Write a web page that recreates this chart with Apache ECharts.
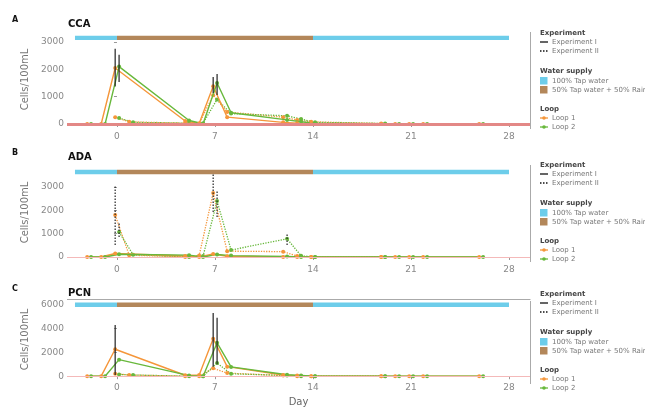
<!DOCTYPE html>
<html>
<head>
<meta charset="utf-8">
<script src="https://cdn.jsdelivr.net/npm/echarts@6/dist/echarts.min.js"></script>
<style>
  html, body { margin: 0; padding: 0; background: #fff; }
  #main { width: 645px; height: 408px; }
</style>
</head>
<body>
<div id="main"></div>
<script>
// panels and sampling days
var panelNames = ['CCA', 'ADA', 'PCN'];
var panelTags = ['A', 'B', 'C'];
var daysExp1 = [-2, -1, 0, 5, 6, 7, 8, 12, 13, 14, 19, 20, 21, 22, 26];
var daysExp2 = [0, 1, 5, 6, 7, 8, 12, 13, 14, 19];

// CCA
var ccaExp1Loop1 = [0, 0, 2050, 110, 20, 1380, 250, 60, 30, 10, 0, 0, 0, 0, 0];
var ccaExp1Loop2 = [0, 0, 2100, 130, 10, 1500, 410, 150, 80, 30, 0, 0, 0, 0, 0];
var ccaExp2Loop1 = [250, 80, 30, 20, 1050, 440, 250, 150, 80, 20];
var ccaExp2Loop2 = [220, 60, 30, 30, 900, 380, 300, 180, 60, 20];
// ADA
var adaExp1Loop1 = [0, 0, 150, 40, 0, 130, 30, 0, 0, 0, 0, 0, 0, 0, 0];
var adaExp1Loop2 = [0, 0, 120, 80, 0, 110, 60, 20, 0, 0, 0, 0, 0, 0, 0];
var adaExp2Loop1 = [1800, 80, 0, 60, 2750, 250, 230, 40, 0, 0];
var adaExp2Loop2 = [1070, 100, 0, 40, 2400, 300, 780, 50, 0, 0];
// PCN
var pcnExp1Loop1 = [0, 0, 2260, 80, 100, 3150, 800, 100, 50, 0, 0, 0, 0, 0, 0];
var pcnExp1Loop2 = [0, 0, 1390, 50, 0, 2800, 780, 120, 60, 0, 0, 0, 0, 0, 0];
var pcnExp2Loop1 = [200, 100, 0, 0, 660, 260, 50, 0, 0, 0];
var pcnExp2Loop2 = [150, 100, 0, 0, 1100, 200, 60, 0, 0, 0];

// error bars: [day, loop, low, high, experiment]
var ccaErr = [[0, 1, 1370, 2750, 1], [0, 2, 1540, 2530, 1], [7, 1, 1130, 1720, 1], [7, 2, 1060, 1830, 1]];
var adaErr = [[0, 1, 510, 3090, 2], [0, 2, 860, 1460, 2], [7, 1, 1930, 3600, 2], [7, 2, 1720, 2880, 2], [12, 2, 515, 1030, 2]];
var pcnErr = [[0, 1, 100, 4300, 1], [7, 1, 800, 5300, 1], [7, 2, 1000, 4900, 1]];

// water supply phases
var supplyStart = [-3, 0, 14];
var supplyEnd = [0, 14, 28];
var supplyKind = [0, 1, 0];
var supplyNames = ['100% Tap water', '50% Tap water + 50% Rainwater'];
var supplyLevel = [3150, 3650, 6000];

var xTicks = [0, 7, 14, 21, 28];
var yTicks = [[0, 1000, 2000, 3000], [0, 1000, 2000, 3000], [0, 2000, 4000, 6000]];

var panelData = [
    [ccaExp1Loop1, ccaExp1Loop2, ccaExp2Loop1, ccaExp2Loop2, ccaErr],
    [adaExp1Loop1, adaExp1Loop2, adaExp2Loop1, adaExp2Loop2, adaErr],
    [pcnExp1Loop1, pcnExp1Loop2, pcnExp2Loop1, pcnExp2Loop2, pcnErr]
];

var orange = '#F5963A', green = '#68B83C';
var supplyColors = ['#6DCDEA', '#B3875A'];
var dodge = { 1: -0.13, 2: 0.15 };

// layout of the three panels
var gridBox = [
    { top: 30, height: 99, ymin: -183, ymax: 3440 },
    { top: 163, height: 99, ymin: -215, ymax: 4034 },
    { top: 299, height: 85, ymin: -320, ymax: 6480 }
];
var zeroLine = [{ color: '#E38886', width: 3 }, { color: '#F4B9B9', width: 1 }, { color: '#F4B9B9', width: 1 }];

var myChart = echarts.init(document.getElementById('main'));
var grids = [], xAxes = [], yAxes = [], series = [], graphics = [];
var font = 'DejaVu Sans';
var plain = function (v) { return String(v); };

gridBox.forEach(function (g, p) {
    grids.push({ left: 67, width: 463, top: g.top, height: g.height });
    xAxes.push({
        type: 'value', gridIndex: p, min: -3.57, max: 29.5,
        splitLine: { show: false },
        axisLine: { show: false },
        axisTick: { show: true, length: 3, lineStyle: { color: '#999' }, customValues: xTicks },
        axisLabel: { color: '#888', fontSize: 9, fontFamily: font, margin: 3, customValues: xTicks, formatter: plain },
        name: p === 2 ? 'Day' : '', nameLocation: 'middle', nameGap: 17,
        nameTextStyle: { color: '#666', fontSize: 10, fontFamily: font }
    });
    yAxes.push({
        type: 'value', gridIndex: p, min: g.ymin, max: g.ymax,
        splitLine: { show: false },
        axisLine: { show: false },
        axisTick: { show: true, length: 3, lineStyle: { color: '#999' }, customValues: yTicks[p] },
        axisLabel: { color: '#888', fontSize: 9, fontFamily: font, margin: 3, customValues: yTicks[p], formatter: plain },
        name: 'Cells/100mL', nameLocation: 'middle', nameGap: 29,
        nameTextStyle: { color: '#777', fontSize: 10, fontFamily: font }
    });

    // zero reference line
    series.push({
        type: 'line', xAxisIndex: p, yAxisIndex: p, data: [], z: 1,
        markLine: {
            silent: true, symbol: 'none', label: { show: false }, animation: false,
            lineStyle: { color: zeroLine[p].color, width: zeroLine[p].width, type: 'solid' },
            data: [{ yAxis: 0 }]
        }
    });

    // water supply bar
    series.push({
        type: 'custom', xAxisIndex: p, yAxisIndex: p, z: 2,
        data: supplyStart.map(function (s, i) { return [s, supplyEnd[i], supplyLevel[p], supplyKind[i]]; }),
        encode: { x: [0, 1], y: 2 },
        renderItem: function (params, api) {
            var a = api.coord([api.value(0), api.value(2)]);
            var b = api.coord([api.value(1), api.value(2)]);
            return { type: 'rect', shape: { x: a[0], y: a[1] - 2.2, width: b[0] - a[0], height: 4.4 },
                     style: { fill: supplyColors[api.value(3)] } };
        }
    });

    var d = panelData[p];
    var defs = [
        { vals: d[0], days: daysExp1, loop: 1, type: 'solid' },
        { vals: d[1], days: daysExp1, loop: 2, type: 'solid' },
        { vals: d[2], days: daysExp2, loop: 1, type: 'dotted' },
        { vals: d[3], days: daysExp2, loop: 2, type: 'dotted' }
    ];
    defs.forEach(function (s) {
        var c = s.loop === 1 ? orange : green;
        series.push({
            type: 'line', xAxisIndex: p, yAxisIndex: p, z: s.type === 'solid' ? 4 : 3,
            data: s.days.map(function (day, i) { return [day + dodge[s.loop], s.vals[i]]; }),
            symbol: 'circle', symbolSize: 4, showSymbol: true,
            itemStyle: { color: c },
            lineStyle: { color: c, width: s.type === 'solid' ? 1.4 : 1.3, type: s.type }
        });
    });

    // error bars
    series.push({
        type: 'custom', xAxisIndex: p, yAxisIndex: p, z: 5,
        data: d[4].map(function (e) { return [e[0] + dodge[e[1]], e[2], e[3], e[4]]; }),
        encode: { x: 0, y: [1, 2] },
        renderItem: function (params, api) {
            var a = api.coord([api.value(0), api.value(1)]);
            var b = api.coord([api.value(0), api.value(2)]);
            return { type: 'line', shape: { x1: a[0], y1: a[1], x2: b[0], y2: b[1] },
                     style: { stroke: '#222', lineWidth: 1.2, lineDash: api.value(3) === 2 ? [1.5, 1.5] : null } };
        }
    });

    // panel tag and title
    graphics.push({ type: 'text', left: 12, top: g.top - 14, style: { text: panelTags[p], font: 'bold 8px ' + font, fill: '#111' } });
    graphics.push({ type: 'text', left: 68, top: g.top - 11, style: { text: panelNames[p], font: 'bold 10px ' + font, fill: '#111' } });

    // panel border pieces
    graphics.push({ type: 'line', shape: { x1: 530.5, y1: g.top + 2, x2: 530.5, y2: g.top + g.height }, style: { stroke: '#aaa', lineWidth: 1 } });
    if (p === 2) {
        graphics.push({ type: 'line', shape: { x1: 67, y1: g.top + 0.5, x2: 530.5, y2: g.top + 0.5 }, style: { stroke: '#aaa', lineWidth: 1 } });
    }
});

// legends, one for each panel
var legendTop = [33, 165, 294];
legendTop.forEach(function (t) {
    var lx = 540, tx = 552;
    var head = 'bold 7px ' + font, item = '7px ' + font;
    function txt(x, y, s, f, col) {
        graphics.push({ type: 'text', x: x, y: y, style: { text: s, font: f, fill: col, verticalAlign: 'middle' } });
    }
    txt(lx, t, 'Experiment', head, '#444');
    graphics.push({ type: 'line', shape: { x1: lx, y1: t + 9, x2: lx + 8, y2: t + 9 }, style: { stroke: '#111', lineWidth: 1.3 } });
    txt(tx, t + 9, 'Experiment I', item, '#777');
    graphics.push({ type: 'line', shape: { x1: lx, y1: t + 18, x2: lx + 8, y2: t + 18 }, style: { stroke: '#111', lineWidth: 1.3, lineDash: [1.5, 1.5] } });
    txt(tx, t + 18, 'Experiment II', item, '#777');

    txt(lx, t + 38, 'Water supply', head, '#444');
    supplyNames.forEach(function (n, i) {
        graphics.push({ type: 'rect', shape: { x: lx, y: t + 44 + i * 9, width: 7.5, height: 7.5 }, style: { fill: supplyColors[i] } });
        txt(tx, t + 48 + i * 9, n, item, '#777');
    });

    txt(lx, t + 76, 'Loop', head, '#444');
    [orange, green].forEach(function (c, i) {
        var y = t + 85 + i * 9;
        graphics.push({ type: 'line', shape: { x1: lx, y1: y, x2: lx + 8, y2: y }, style: { stroke: c, lineWidth: 1.3 } });
        graphics.push({ type: 'circle', shape: { cx: lx + 4, cy: y, r: 1.8 }, style: { fill: c } });
        txt(tx, y, 'Loop ' + (i + 1), item, '#777');
    });
});

option = {
    backgroundColor: '#fff',
    animation: false,
    grid: grids,
    xAxis: xAxes,
    yAxis: yAxes,
    series: series,
    graphic: graphics
};
myChart.setOption(option);
</script>
</body>
</html>
